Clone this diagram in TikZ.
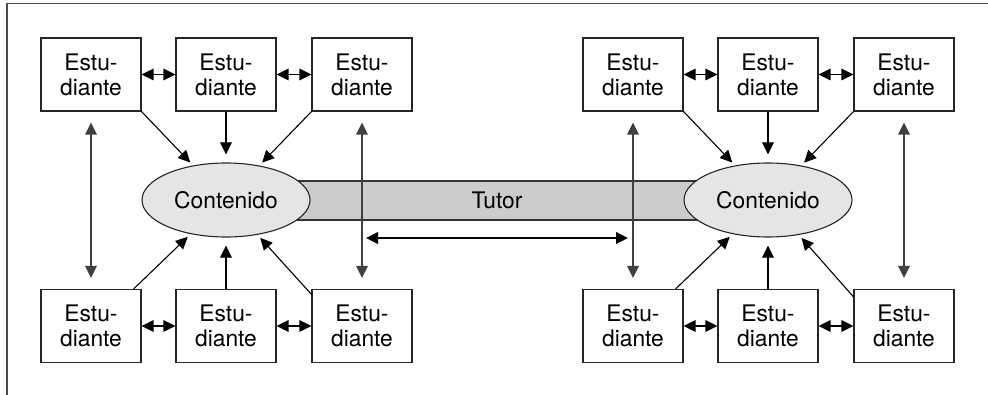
\documentclass[tikz,border=0pt]{standalone}
\usepackage{fontspec}
\setmainfont{TeX Gyre Heros}
\usetikzlibrary{arrows.meta,shapes.geometric}
\tikzset{
est/.style={draw=black!85,fill=white,line width=0.55pt,minimum width=50pt,minimum height=36.5pt,inner sep=0pt,align=center,font=\fontsize{11.4}{12.5}\selectfont},
cont/.style={ellipse,draw=black!85,fill=black!10,line width=0.55pt,minimum width=84pt,minimum height=37pt,inner sep=0pt,font=\fontsize{11.4}{12.5}\selectfont},
tri/.tip={Triangle[length=6pt,width=5.8pt]},
arr/.style={-tri,line width=0.55pt,shorten >=2pt},
par/.style={tri-tri,line width=0.7pt},
ver/.style={tri-tri,line width=0.7pt,draw=black!75,shorten >=5.5pt,shorten <=5.5pt}
}
\begin{document}
\begin{tikzpicture}[x=0.5pt,y=-0.5pt]
\useasboundingbox(0,0)rectangle(988,395);
\draw[line width=0.8pt,black!70](7,395)--(7,3.5)--(988,3.5);
\draw[fill=black!20,draw=black!80,line width=0.6pt](226,181)rectangle(768,220);
\node[font=\fontsize{11.4}{12.5}\selectfont](tutor)at(497,200){Tutor};
\node[cont](c1)at(226,200){Contenido};
\node[cont](c2)at(768,200){Contenido};
\foreach \n/\x in {1/91,2/226,3/362,7/633,8/768,9/904}{
\node[est](s\n)at(\x,74.5){Estu-\\diante};}
\foreach \n/\x in {4/91,5/226,6/362,10/633,11/768,12/904}{
\node[est](s\n)at(\x,326){Estu-\\diante};}
\draw[par](s1)--(s2);
\draw[par](s2)--(s3);
\draw[par](s4)--(s5);
\draw[par](s5)--(s6);
\draw[par](s7)--(s8);
\draw[par](s8)--(s9);
\draw[par](s10)--(s11);
\draw[par](s11)--(s12);
\draw[arr](s1.south east)--(c1);
\draw[arr,shorten >=4pt](s2.south)--(c1);
\draw[arr](s3.south west)--(c1);
\draw[arr](s4.41)--(c1);
\draw[arr,shorten >=4pt](s5.north)--(c1);
\draw[arr](s6.148)--(c1);
\draw[arr](s7.south east)--(c2);
\draw[arr,shorten >=4pt](s8.south)--(c2);
\draw[arr](s9.south west)--(c2);
\draw[arr](s10.41)--(c2);
\draw[arr,shorten >=4pt](s11.north)--(c2);
\draw[arr](s12.150)--(c2);
\draw[ver](s1)--(s4);
\draw[ver](s3)--(s6);
\draw[ver](s7)--(s10);
\draw[ver](s9)--(s12);
\coordinate(h1)at(366,238);
\coordinate(h2)at(628,238);
\draw[par,line width=1pt](h1)--(h2);
\end{tikzpicture}
\end{document}
